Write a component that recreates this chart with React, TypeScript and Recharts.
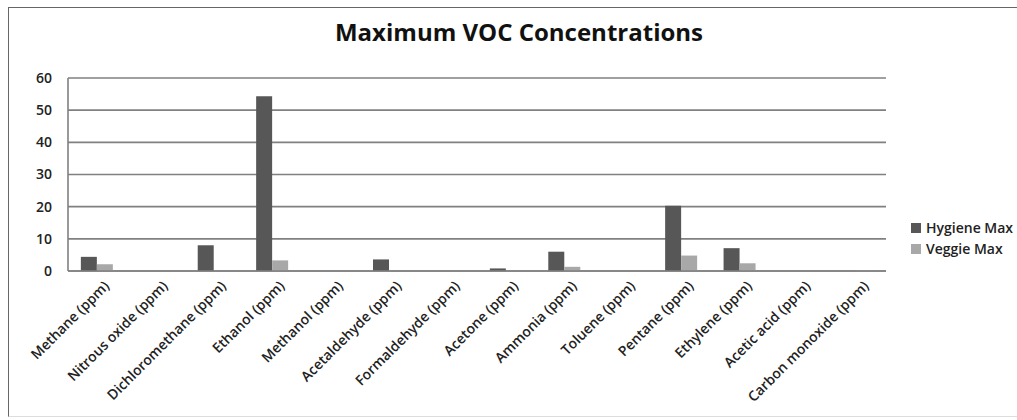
import React from "react";
import { BarChart, Bar, XAxis, YAxis, CartesianGrid, Legend } from "recharts";

const categories = [
  "Methane (ppm)",
  "Nitrous oxide (ppm)",
  "Dichloromethane (ppm)",
  "Ethanol (ppm)",
  "Methanol (ppm)",
  "Acetaldehyde (ppm)",
  "Formaldehyde (ppm)",
  "Acetone (ppm)",
  "Ammonia (ppm)",
  "Toluene (ppm)",
  "Pentane (ppm)",
  "Ethylene (ppm)",
  "Acetic acid (ppm)",
  "Carbon monoxide (ppm)",
];
const hygieneMax = [4.4, 0, 8.0, 54.3, 0, 3.6, 0, 0.8, 6.0, 0, 20.3, 7.1, 0, 0];
const veggieMax = [2.1, 0, 0, 3.3, 0, 0, 0, 0, 1.3, 0, 4.8, 2.4, 0, 0.3];
const yTicks = [0, 10, 20, 30, 40, 50, 60];
const title = "Maximum VOC Concentrations";

const data = categories.map((c, i) => ({
  name: c,
  hygiene: hygieneMax[i],
  veggie: veggieMax[i],
}));

const FONT = "'Open Sans', 'Liberation Sans', sans-serif";
const HYG = "#575757";
const VEG = "#a8a8a8";

const XTick = (props: any) => {
  const { x, y, payload } = props;
  return (
    <g transform={`translate(${x + 6},${y + 1})`}>
      <text
        transform="rotate(-45)"
        textAnchor="end"
        dy="0.7em"
        fontFamily={FONT}
        fontSize={14}
        fontWeight={600}
        fill="#222"
      >
        {payload.value}
      </text>
    </g>
  );
};

const LegendContent = () => {
  const items = [
    { label: "Hygiene Max", color: HYG },
    { label: "Veggie Max", color: VEG },
  ];
  return (
    <div style={{ fontFamily: FONT, fontSize: 14, fontWeight: 600, color: "#222" }}>
      {items.map((it) => (
        <div key={it.label} style={{ display: "flex", alignItems: "center", height: 21 }}>
          <span style={{ display: "inline-block", width: 10, height: 10, background: it.color, marginRight: 5 }} />
          <span>{it.label}</span>
        </div>
      ))}
    </div>
  );
};

export default function App() {
  return (
    <div style={{ position: "absolute", left: 0, top: 0, width: 1017, height: 420, background: "#fff", overflow: "hidden" }}>
      <div
        style={{
          position: "absolute",
          left: 8,
          top: 7,
          width: 1030,
          height: 410,
          borderLeft: "1.5px solid #666",
          borderTop: "1.5px solid #666",
          borderBottom: "1px solid #ddd",
          boxSizing: "border-box",
        }}
      />
      <div
        style={{
          position: "absolute",
          left: 0,
          top: 16,
          width: 1038,
          textAlign: "center",
          fontFamily: FONT,
          fontWeight: 700,
          fontSize: 24,
          lineHeight: "32px",
          color: "#111",
        }}
      >
        {title}
      </div>
      <div style={{ position: "absolute", left: 0, top: 0 }}>
        <BarChart
          width={1017}
          height={420}
          data={data}
          margin={{ top: 78, right: 131, bottom: 9, left: 8 }}
          barCategoryGap="22%"
          barGap={0}
        >
          <CartesianGrid vertical={false} stroke="#808080" strokeWidth={1.6} />
          <XAxis
            dataKey="name"
            interval={0}
            height={140}
            tick={<XTick />}
            tickLine={false}
            axisLine={{ stroke: "#808080", strokeWidth: 1.6 }}
          />
          <YAxis
            width={60}
            domain={[0, 60]}
            ticks={yTicks}
            tickLine={false}
            tickMargin={10}
            axisLine={{ stroke: "#808080", strokeWidth: 1.6 }}
            tick={{ fontFamily: FONT, fontSize: 14, fontWeight: 600, fill: "#222" }}
          />
          <Legend
            layout="vertical"
            align="center"
            verticalAlign="middle"
            content={<LegendContent />}
            wrapperStyle={{ position: "absolute", left: 911, top: 217, width: 110 }}
          />
          <Bar dataKey="hygiene" name="Hygiene Max" fill={HYG} isAnimationActive={false} />
          <Bar dataKey="veggie" name="Veggie Max" fill={VEG} isAnimationActive={false} />
        </BarChart>
      </div>
    </div>
  );
}
